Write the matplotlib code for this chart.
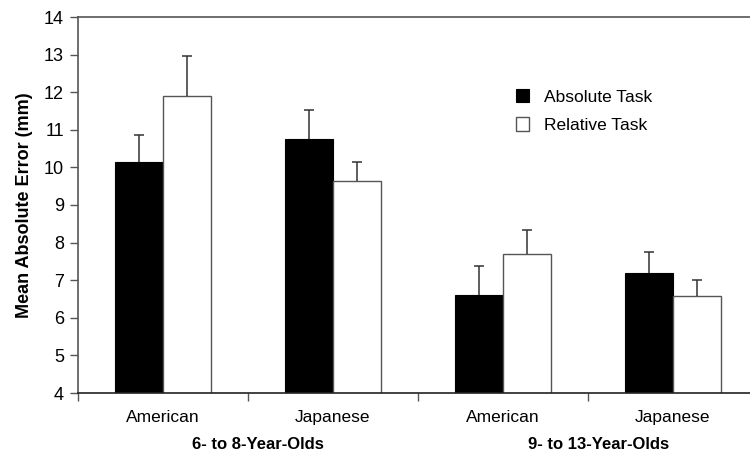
import numpy as np
import matplotlib
matplotlib.use("Agg")
from matplotlib import pyplot as plt

plt.rcParams['font.family'] = ['Liberation Sans', 'DejaVu Sans']

categories = ['American', 'Japanese', 'American', 'Japanese']
groups = ['6- to 8-Year-Olds', '9- to 13-Year-Olds']
absolute_mean = [10.15, 10.76, 6.61, 7.18]
absolute_err = [0.72, 0.76, 0.76, 0.58]
relative_mean = [11.91, 9.65, 7.69, 6.57]
relative_err = [1.06, 0.50, 0.65, 0.44]

fig = plt.figure(figsize=(7.5, 4.57), dpi=100)
ax = fig.add_axes([78/750, 64/457, 680/750, 376/457])

x = np.arange(len(categories)) + 0.5
w = 0.285
gray = '#555555'
err_col = '#333333'

ax.bar(x - w/2, absolute_mean, w, color='black', edgecolor='black', linewidth=0.8,
       label='Absolute Task', zorder=2)
ax.bar(x + w/2, relative_mean, w, color='white', edgecolor=gray, linewidth=1.0,
       label='Relative Task', zorder=2)

# one-sided error bars (upper only) with a cap
for xs, m, e in [(x - w/2, absolute_mean, absolute_err),
                 (x + w/2, relative_mean, relative_err)]:
    top = np.array(m) + np.array(e)
    ax.vlines(xs, m, top, color=err_col, linewidth=1.1, zorder=3)
    ax.plot(xs, top, linestyle='none', marker='_', markersize=7,
            markeredgewidth=1.1, color=err_col, zorder=3)

ax.set_xlim(0, 4)
ax.set_ylim(4, 14)
ax.set_yticks(range(4, 15))
ax.set_xticks(range(0, 4))
ax.set_xticklabels([])
ax.tick_params(axis='both', direction='out', length=6, width=1, color=gray,
               labelsize=13)
ax.tick_params(axis='y', pad=4)

for xi, lab in zip(x, categories):
    ax.text(xi, 3.36, lab, ha='center', va='center', fontsize=12.5)
for gi, g in enumerate(groups):
    ax.text(1.0 + 2*gi + 0.06, 2.63, g, ha='center', va='center', fontsize=12,
            fontweight='bold')

for s in ['left', 'top', 'right']:
    ax.spines[s].set_color(gray)
    ax.spines[s].set_linewidth(1.2)
ax.spines['bottom'].set_color('#222222')
ax.spines['bottom'].set_linewidth(1.2)

ax.set_ylabel('Mean Absolute Error (mm)', fontsize=13, fontweight='bold', labelpad=8)

ax.legend(loc='upper left', bbox_to_anchor=(0.634, 0.828), frameon=False,
          fontsize=12.5, handlelength=0.75, handleheight=0.85, handletextpad=0.85,
          labelspacing=0.7, borderaxespad=0)

fig.savefig('out.png', dpi=100)
